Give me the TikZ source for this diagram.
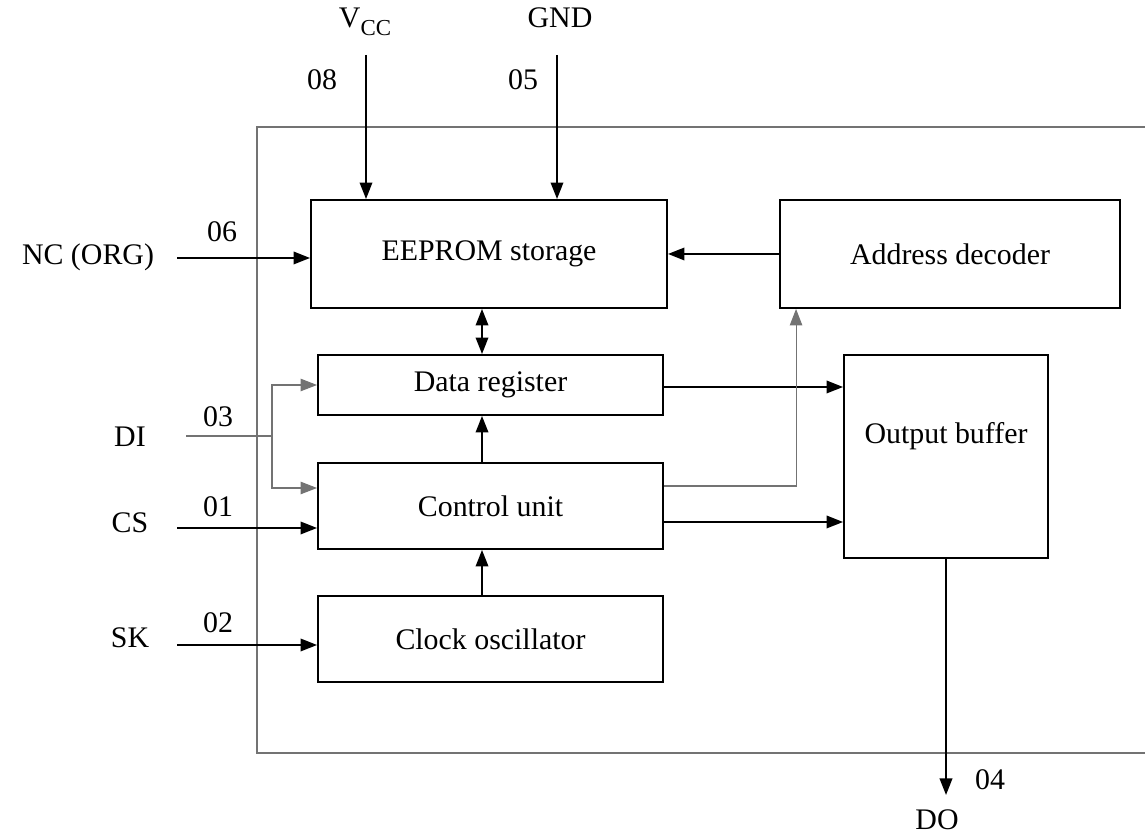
\documentclass[tikz,border=0pt]{standalone}
\usepackage{fontspec}
\setmainfont{Liberation Serif}
\usetikzlibrary{arrows.meta}

\begin{document}
\begin{tikzpicture}[
   blk/.style={draw,shape=rectangle,line width=1.1pt,inner sep=0pt},
   tip/.style={-{Triangle[length=3.3mm,width=2.5mm]}},
   sig/.style={line width=1.1pt,tip},
   thin/.style={draw=black!55,line width=0.6pt},
   font=\fontsize{17}{20}\selectfont]
   \useasboundingbox (0,0) rectangle (22.9,16.78);

   % chip outline
   \draw[thin] (22.9,14.24) -- (5.14,14.24) -- (5.14,1.72) -- (22.9,1.72);

   \path (9.78,11.70) node[blk,minimum width=7.12cm,minimum height=2.16cm] (eeprom) {EEPROM storage};
   \path (19.0,11.70) node[blk,minimum width=6.8cm,minimum height=2.16cm] (addr) {Address decoder};
   \path (9.81,9.08) node[blk,minimum width=6.9cm,minimum height=1.2cm] (dreg) {Data register};
   \path (9.81,6.66) node[blk,minimum width=6.9cm,minimum height=1.72cm] (ctrl) {Control unit};
   \path (9.81,4.0) node[blk,minimum width=6.9cm,minimum height=1.72cm] (clk) {Clock oscillator};
   \path (18.92,7.65) node[blk,minimum width=4.08cm,minimum height=4.06cm] (obuf) {};
   \path (18.92,8.06) node (obufn) {Output buffer};

   % pins
   \path (7.30,16.34) node (vcc) {V\raisebox{-0.55ex}{\fontsize{13}{15}\selectfont CC}};
   \path (11.2,16.42) node (gnd) {GND};
   \path (6.44,15.18) node (p08) {08};
   \path (10.46,15.18) node (p05) {05};
   \path (1.76,11.64) node (nc) {NC (ORG)};
   \path (4.44,12.14) node (p06) {06};
   \path (2.6,8.04) node (di) {DI};
   \path (4.36,8.44) node (p03) {03};
   \path (2.6,6.32) node (cs) {CS};
   \path (4.36,6.64) node (p01) {01};
   \path (2.6,4.02) node (sk) {SK};
   \path (4.36,4.32) node (p02) {02};
   \path (19.8,1.18) node (p04) {04};
   \path (18.74,0.38) node (do) {DO};

   \coordinate (vccin) at (7.32,15.68);
   \coordinate (gndin) at (11.14,15.68);
   \coordinate (ncin) at (3.54,11.62);
   \coordinate (diin) at (3.72,8.06);
   \coordinate (dibr) at (5.44,8.06);
   \coordinate (csin) at (3.54,6.22);
   \coordinate (skin) at (3.54,3.88);
   \coordinate (doout) at (18.92,0.88);
   \coordinate (mid) at (9.64,0);

   \draw[sig] (vccin) -- (vccin |- eeprom.north);
   \draw[sig] (gndin) -- (gndin |- eeprom.north);
   \draw[sig] (ncin) -- (ncin -| eeprom.west);
   \draw[sig] (csin) -- (csin -| ctrl.west);
   \draw[sig] (skin) -- (skin -| clk.west);
   \draw[thin,tip] (diin) -- (dibr) |- (dreg.west);
   \draw[thin,tip] (dibr) |- ([yshift=0.36cm]ctrl.west);

   \draw[sig] (addr.west) -- (eeprom.east);
   \draw[sig,{Triangle[length=3.3mm,width=2.5mm]}-{Triangle[length=3.3mm,width=2.5mm]}] (mid |- eeprom.south) -- (mid |- dreg.north);
   \draw[sig] (mid |- ctrl.north) -- (mid |- dreg.south);
   \draw[sig] (mid |- clk.north) -- (mid |- ctrl.south);
   \draw[sig] ([yshift=-0.04cm]dreg.east) -- ([yshift=-0.04cm]dreg.east -| obuf.west);
   \draw[sig] ([yshift=-0.32cm]ctrl.east) -- ([yshift=-0.32cm]ctrl.east -| obuf.west);
   \draw[thin,tip] ([yshift=0.4cm]ctrl.east) -| ([xshift=0.34cm]addr.south west);
   \draw[sig] (obuf.south) -- (doout);
\end{tikzpicture}
\end{document}
